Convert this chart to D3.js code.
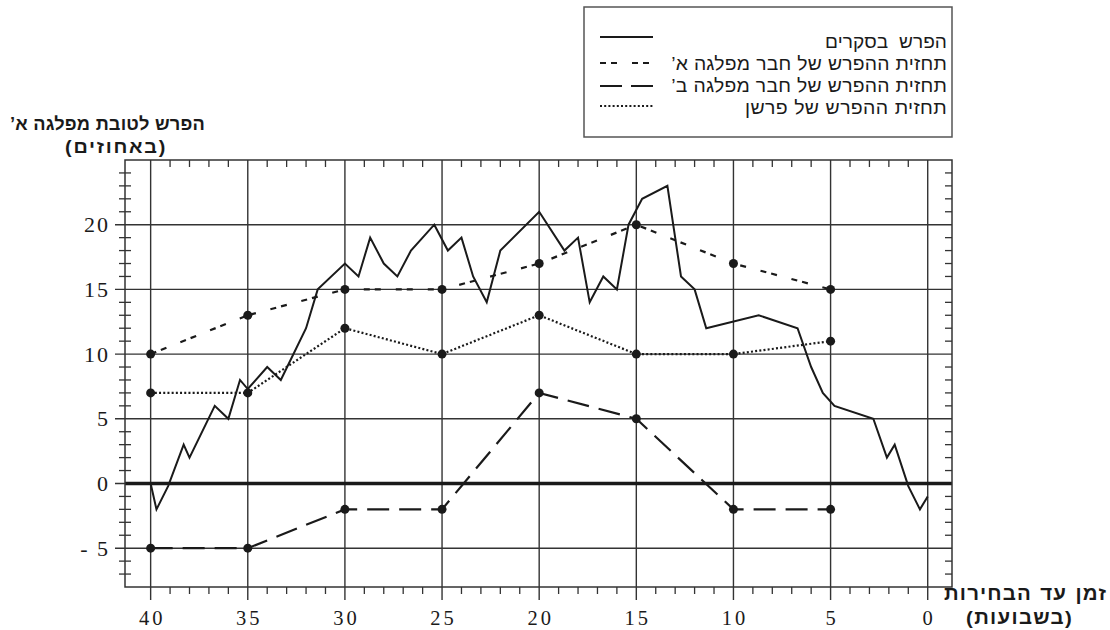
<!DOCTYPE html>
<html><head><meta charset="utf-8">
<script src="https://cdn.jsdelivr.net/npm/d3@7"></script>
<style>
html,body{margin:0;padding:0;background:#fff;}
svg{display:block;}
text{white-space:pre;}
</style></head>
<body>
<svg id="c" width="1110" height="630"></svg>
<script>
// ---- data ----
const surveyWeeks = [40,39.7,39.1,38.3,38,36.7,36,35.4,35,34,33.3,32,31.4,30,29.3,28.7,28,27.3,26.6,25.4,24.7,24,23.4,22.7,22,20,18.7,18,17.4,16.7,16,15.4,14.7,13.4,12.7,12,11.4,8.7,6.7,6,5.4,4.8,2.8,2.1,1.7,1,0.4,0];
const surveyValues = [0,-2,-0.2,3,2,6,5,8,7.3,9,8,12,15,17,16,19,17,16,18,20,18,19,16,14,18,21,18,19,14,16,15,20,22,23,16,15,12,13,12,9,7,6,5,2,3,-0.2,-2,-1];
const predWeeks = [40,35,30,25,20,15,10,5];
const partyA = [10,13,15,15,17,20,17,15];
const partyB = [-5,-5,-2,-2,7,5,-2,-2];
const commentator = [7,7,12,10,13,10,10,11];
const xTicks = [40,35,30,25,20,15,10,5,0];
const yTicks = [-5,0,5,10,15,20];
const yTickLabels = ["- 5","0","5","10","15","20"];
const legendLabels = ["הפרש  בסקרים","תחזית ההפרש של חבר מפלגה א’","תחזית ההפרש של חבר מפלגה ב’","תחזית ההפרש של פרשן"];
const yTitle = ["הפרש לטובת מפלגה א’","(באחוזים)"];
const xTitle = ["זמן עד הבחירות","(בשבועות)"];

// ---- layout ----
const L=125,R=952,T=160,B=587;
const x = d3.scaleLinear().domain([41.32,-1.25]).range([L,R]);
const y = d3.scaleLinear().domain([-8,25]).range([B,T]);
const svg = d3.select("#c");
const ink = "#1a1a1a", grid="#333";

// minor ticks
const xMinor = d3.range(1,40).filter(d=>d%5!==0);
const yMinor = d3.range(-7,25).filter(d=>d%5!==0);
const g = svg.append("g");
g.selectAll(".xmt").data(xMinor).join("line")
  .attr("x1",d=>x(d)).attr("x2",d=>x(d)).attr("y1",T).attr("y2",T+7)
  .attr("stroke",grid).attr("stroke-width",1.3);
g.selectAll(".xmb").data(xMinor).join("line")
  .attr("x1",d=>x(d)).attr("x2",d=>x(d)).attr("y1",B).attr("y2",B+7)
  .attr("stroke",grid).attr("stroke-width",1.3);
g.selectAll(".yml").data(yMinor).join("line")
  .attr("x1",L-6).attr("x2",L+6).attr("y1",d=>y(d)).attr("y2",d=>y(d))
  .attr("stroke",grid).attr("stroke-width",1.3);
g.selectAll(".ymr").data(yMinor).join("line")
  .attr("x1",R-7).attr("x2",R).attr("y1",d=>y(d)).attr("y2",d=>y(d))
  .attr("stroke",grid).attr("stroke-width",1.3);

// grid lines
g.selectAll(".vg").data(xTicks).join("line")
  .attr("x1",d=>x(d)).attr("x2",d=>x(d)).attr("y1",T).attr("y2",B+13)
  .attr("stroke",grid).attr("stroke-width",1.4);
g.selectAll(".hg").data(yTicks).join("line")
  .attr("x1",L-10).attr("x2",R).attr("y1",d=>y(d)).attr("y2",d=>y(d))
  .attr("stroke",grid).attr("stroke-width",1.4);
g.append("line").attr("x1",L).attr("x2",R).attr("y1",y(0)).attr("y2",y(0))
  .attr("stroke",ink).attr("stroke-width",3.5);

// frame
g.append("rect").attr("x",L).attr("y",T).attr("width",R-L).attr("height",B-T)
  .attr("fill","none").attr("stroke",grid).attr("stroke-width",1.5);

// tick labels
svg.selectAll(".yl").data(yTicks).join("text")
  .attr("x",110).attr("y",d=>y(d)+7.5).attr("text-anchor","end")
  .attr("font-family","Liberation Serif").attr("font-size",22).attr("letter-spacing","2px")
  .attr("fill",ink).text((d,i)=>yTickLabels[i]);
svg.selectAll(".xl").data(xTicks).join("text")
  .attr("x",d=>x(d)+1.5).attr("y",625).attr("text-anchor","middle")
  .attr("font-family","Liberation Serif").attr("font-size",20.5).attr("letter-spacing","3px")
  .attr("fill",ink).text(d=>String(d));

// series
const line = d3.line().x(d=>x(d[0])).y(d=>y(d[1]));
const styles = [
  {vals:partyA, dash:"6,5,6,15"},
  {vals:partyB, dash:"22,10"},
  {vals:commentator, dash:"2,2.2"}
];
styles.forEach(s=>{
  svg.append("path").datum(predWeeks.map((w,i)=>[w,s.vals[i]]))
    .attr("d",line).attr("fill","none").attr("stroke",ink)
    .attr("stroke-width",2.2).attr("stroke-dasharray",s.dash);
});
svg.append("path").datum(surveyWeeks.map((w,i)=>[w,surveyValues[i]]))
  .attr("d",line).attr("fill","none").attr("stroke",ink)
  .attr("stroke-width",2).attr("stroke-linejoin","miter");
styles.forEach(s=>{
  svg.selectAll(null).data(predWeeks.map((w,i)=>[w,s.vals[i]])).join("circle")
    .attr("cx",d=>x(d[0])).attr("cy",d=>y(d[1])).attr("r",4.5).attr("fill",ink);
});

// Hebrew text fitted to a measured width (right-anchored, RTL)
function heb(t, xr, yb, target, size, weight){
  const el = svg.append("text").attr("x",xr).attr("y",yb).attr("direction","rtl")
    .attr("text-anchor","start").attr("font-family","Liberation Sans")
    .attr("font-weight",weight).attr("font-size",size).attr("fill",ink).text(t);
  const w0 = el.node().getComputedTextLength();
  const n = t.length, ns = (t.match(/ /g)||[]).length;
  let extra = target - w0;
  if (extra > 0) {
    const ls = extra/(n + 1.5*ns) * 0.6;
    el.attr("letter-spacing", ls.toFixed(2)+"px").attr("word-spacing",(1.5*ls).toFixed(2)+"px");
  }
  const w1 = el.node().getComputedTextLength();
  const sx = target/w1;
  el.attr("transform",`translate(${xr},0) scale(${sx.toFixed(4)},1) translate(${-xr},0)`);
  return el;
}

// legend
svg.append("rect").attr("x",584).attr("y",7).attr("width",368).attr("height",130)
  .attr("fill","#fff").attr("stroke","#555").attr("stroke-width",1.5);
const legDash = [null,"6,5,6,15","22,9","2,2.2"];
const legLineY = [37,63,86,106];
const legTextY = [48,70,92,114];
const legTextLen = [122,276,276,202];
legendLabels.forEach((t,i)=>{
  svg.append("line").attr("x1",600).attr("x2",653).attr("y1",legLineY[i]).attr("y2",legLineY[i])
    .attr("stroke",ink).attr("stroke-width",2.2).attr("stroke-dasharray",legDash[i]);
  heb(t, 947, legTextY[i], legTextLen[i], 19, "normal");
});

// axis titles
heb(yTitle[0], 205, 130, 195, 18, "bold");
heb(yTitle[1], 167, 153, 102, 18, "bold");
heb(xTitle[0], 1107, 600, 163, 19, "bold");
heb(xTitle[1], 1073, 624, 107, 19, "bold");
</script>
</body></html>
